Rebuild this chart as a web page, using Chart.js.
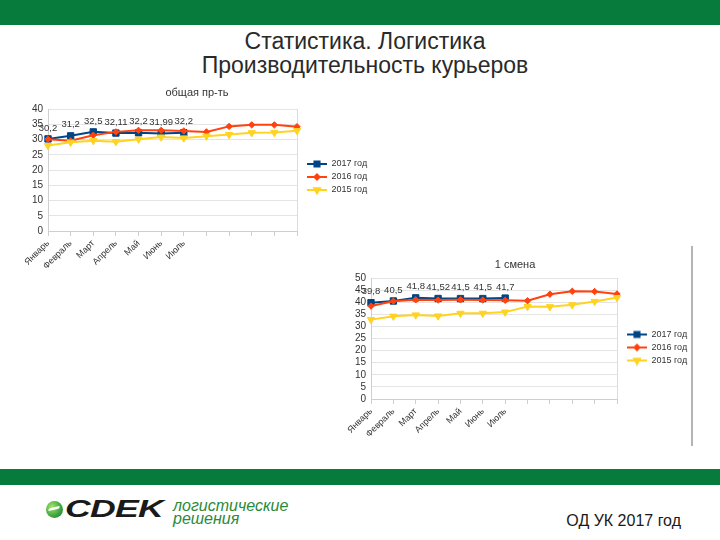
<!DOCTYPE html>
<html><head><meta charset="utf-8">
<script src="https://cdn.jsdelivr.net/npm/chart.js@4/dist/chart.umd.min.js"></script>
<style>
html,body{margin:0;padding:0;background:#fff;}
body{width:720px;height:540px;position:relative;overflow:hidden;font-family:"Liberation Sans",Arial,sans-serif;}
.bar{position:absolute;left:0;width:720px;background:#067b3b;}
.ttl{position:absolute;left:0;width:730px;text-align:center;font-size:23px;line-height:24px;color:#2a2a2a;white-space:nowrap;}
canvas{position:absolute;}
</style></head><body>
<div class="bar" style="top:0;height:25px"></div>
<div class="ttl" style="top:29px">Статистика. Логистика</div>
<div class="ttl" style="top:53px">Производительность курьеров</div>

<canvas id="c1" width="358" height="186" style="left:18px;top:84px"></canvas>
<canvas id="c2" width="362" height="183" style="left:334px;top:256px"></canvas>

<div style="position:absolute;left:691px;top:246px;width:2px;height:200px;background:#b4b4b4"></div>
<div class="bar" style="top:469px;height:16px"></div>

<div style="position:absolute;left:46px;top:501px;width:17px;height:17px;border-radius:50%;background:radial-gradient(circle at 35% 35%,#a6e36a,#3aa33c 60%,#1d6f2b);"></div>
<div style="position:absolute;left:49px;top:507px;width:10px;height:3px;background:#fff;transform:skewX(-30deg) rotate(-15deg);border-radius:2px"></div>
<div style="position:absolute;left:65px;top:497px;font-size:23px;line-height:24px;font-weight:bold;font-style:italic;color:#1a1a1a;transform:scaleX(1.55);transform-origin:left top;letter-spacing:-0.5px">CDEK</div>
<div style="position:absolute;left:173px;top:499px;font-size:16px;line-height:13px;font-style:italic;color:#2a8a3c">логистические<br>решения</div>
<div style="position:absolute;right:39px;top:511px;font-size:16px;line-height:20px;color:#1a1a1a">ОД УК 2017 год</div>

<script>
const months = ['Январь','Февраль','Март','Апрель','Май','Июнь','Июль','','','','',''];
const seriesNames = ['2017 год','2016 год','2015 год'];
const seriesColors = ['#004586','#ff420e','#ffd320'];

const overallTitle = 'общая пр-ть';
const overall2017 = [30.2, 31.2, 32.5, 32.11, 32.2, 31.99, 32.2];
const overall2016 = [30.1, 29.6, 31.4, 32.5, 33.0, 33.0, 32.8, 32.5, 34.3, 34.8, 34.8, 34.2];
const overall2015 = [28.0, 29.1, 29.6, 29.3, 30.1, 30.8, 30.5, 31.1, 31.6, 32.2, 32.3, 32.9];
const overallMax = 40;

const shiftTitle = '1 смена';
const shift2017 = [39.8, 40.5, 41.8, 41.52, 41.5, 41.5, 41.7];
const shift2016 = [38.4, 40.4, 41.0, 40.9, 41.0, 40.9, 40.8, 40.6, 43.3, 44.5, 44.4, 43.4];
const shift2015 = [32.8, 34.2, 34.7, 34.3, 35.4, 35.4, 35.9, 38.2, 38.1, 38.9, 40.3, 41.9];
const shiftMax = 50;
const tickStep = 5;

Chart.defaults.font.family = "'Liberation Sans', Arial, sans-serif";
Chart.defaults.color = '#333';

const markerStyles = [
  {style:'rect', radius:4.5, rotation:0},
  {style:'rectRot', radius:3.2, rotation:0},
  {style:'triangle', radius:4.2, rotation:180}
];

function legendIcon(i){
  const c = document.createElement('canvas');
  c.width = 26; c.height = 10;
  const g = c.getContext('2d');
  g.strokeStyle = seriesColors[i]; g.fillStyle = seriesColors[i];
  g.lineWidth = 2;
  g.beginPath(); g.moveTo(6,5); g.lineTo(26,5); g.stroke();
  Chart.helpers.drawPoint(g, {pointStyle: markerStyles[i].style, rotation: markerStyles[i].rotation, radius: markerStyles[i].radius*0.8, borderWidth: 1}, 16, 5);
  return c;
}
const icons = [0,1,2].map(legendIcon);

const valueLabels = {
  id: 'valueLabels',
  afterDatasetsDraw(chart) {
    const ctx = chart.ctx;
    const meta = chart.getDatasetMeta(0);
    const data = chart.data.datasets[0].data;
    ctx.save();
    ctx.font = "9.5px 'Liberation Sans', Arial, sans-serif";
    ctx.fillStyle = '#333';
    ctx.textAlign = 'center';
    ctx.textBaseline = 'middle';
    meta.data.forEach((pt, i) => {
      if (data[i] == null) return;
      ctx.fillText(String(data[i]).replace('.', ','), pt.x, pt.y - 11);
    });
    ctx.restore();
  }
};

const LEGEND_W = 79;
const fixedLegend = {
  id: 'fixedLegend',
  afterInit(chart) {
    const lg = chart.legend;
    if (!lg) return;
    const f = lg.fit.bind(lg);
    lg.fit = function(){ f(); this.width = LEGEND_W; };
  }
};

function makeChart(id, title, s17, s16, s15, yMax, yWidth, xHeight, titlePad) {
  const sets = [s17, s16, s15].map((d, i) => ({
    label: seriesNames[i],
    data: d,
    borderColor: seriesColors[i],
    backgroundColor: seriesColors[i],
    borderWidth: 2,
    pointStyle: markerStyles[i].style,
    pointRotation: markerStyles[i].rotation,
    pointRadius: markerStyles[i].radius,
    pointBorderWidth: 1,
    tension: 0,
    order: 2 - i
  }));
  return new Chart(document.getElementById(id), {
    type: 'line',
    data: { labels: months, datasets: sets },
    options: {
      responsive: false,
      animation: false,
      events: [],
      layout: { padding: 0 },
      plugins: {
        title: { display: true, text: title, font: { size: 11, weight: 'normal' }, color: '#333', padding: titlePad },
        legend: {
          position: 'right',
          reverse: true,
          labels: {
            usePointStyle: true,
            pointStyleWidth: 26,
            boxHeight: 9,
            padding: 4,
            font: { size: 9 },
            color: '#333',
            generateLabels(chart) {
              const items = Chart.defaults.plugins.legend.labels.generateLabels(chart);
              items.forEach(it => { it.pointStyle = icons[it.datasetIndex]; it.rotation = 0; });
              return items;
            }
          }
        },
        tooltip: { enabled: false }
      },
      scales: {
        x: {
          grid: {
            drawOnChartArea: true,
            color: c => c.index === months.length - 1 ? '#dcdcdc' : 'rgba(0,0,0,0)',
            tickColor: '#cfcfcf',
            tickLength: 5
          },
          border: { color: '#cfcfcf' },
          ticks: { autoSkip: false, minRotation: 45, maxRotation: 45, font: { size: 9 }, color: '#333', padding: 2 },
          afterFit(s) { s.height = xHeight; }
        },
        y: {
          min: 0, max: yMax,
          grid: { color: '#e4e4e4', drawTicks: false },
          border: { color: '#cfcfcf' },
          ticks: { stepSize: tickStep, autoSkip: false, font: { size: 10 }, color: '#333', padding: 5 },
          afterFit(s) { s.width = yWidth; }
        }
      }
    },
    plugins: [valueLabels, fixedLegend]
  });
}

makeChart('c1', overallTitle, overall2017, overall2016, overall2015, overallMax, 30, 39, { top: 2.4, bottom: 9.4 });
makeChart('c2', shiftTitle, shift2017, shift2016, shift2015, shiftMax, 37, 40, { top: 2.4, bottom: 6.4 });
</script>
</body></html>
